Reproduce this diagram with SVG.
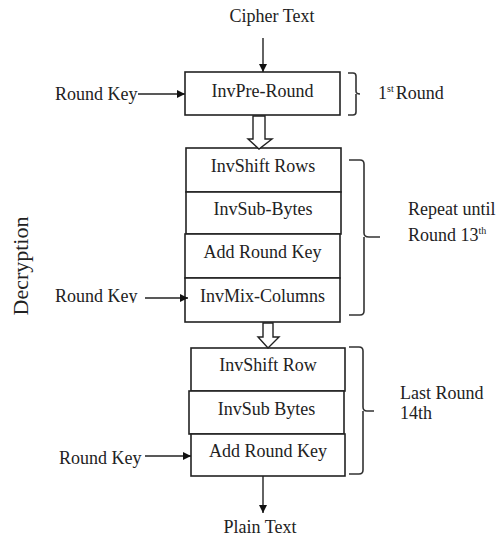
<svg xmlns="http://www.w3.org/2000/svg" width="497" height="537" viewBox="0 0 497 537">
  <style>
    text { font-family: "Liberation Serif", "Times New Roman", serif; font-size: 18px; fill: #222; }
    .c { text-anchor: middle; }
    .box { fill: #fff; stroke: #222; stroke-width: 1.6; }
    .line { fill: none; stroke: #222; stroke-width: 1.4; }
    .brace { fill: none; stroke: #333; stroke-width: 1.6; stroke-linejoin: round; }
    .hollow { fill: #fff; stroke: #222; stroke-width: 1.4; stroke-linejoin: miter; }
    .sup { font-size: 10px; }
  </style>
  <defs>
    <marker id="head" viewBox="0 0 10 10" refX="10" refY="5" markerWidth="8" markerHeight="8" markerUnits="userSpaceOnUse" orient="auto">
      <path d="M0,0 L10,5 L0,10 Z" fill="#111"/>
    </marker>
    <!-- the side labels sit in boxes that cut off the descenders -->
    <clipPath id="cutKey2"><rect x="40" y="280" width="110" height="23"/></clipPath>
  </defs>

  <rect width="497" height="537" fill="#fff"/>

  <!-- side labels -->
  <text transform="translate(28,266) rotate(-90)" class="c" style="font-size:22px">Decryption</text>
  <text x="55" y="100">Round Key</text>
  <text x="55" y="302" clip-path="url(#cutKey2)">Round Key</text>
  <text x="59" y="464">Round Key</text>
  <text x="272" y="22" class="c">Cipher Text</text>
  <text x="260" y="533" class="c">Plain Text</text>

  <!-- round annotations -->
  <text x="378" y="99">1<tspan class="sup" dy="-7">st</tspan><tspan dx="2" dy="7">Round</tspan></text>
  <text x="408" y="215">Repeat until</text>
  <text x="408" y="241">Round 13<tspan class="sup" dy="-7">th</tspan></text>
  <text x="400" y="399">Last Round</text>
  <text x="400" y="419">14th</text>

  <!-- first round -->
  <g id="inv-pre-round">
    <rect class="box" x="185" y="72" width="155" height="43"/>
    <text x="262.5" y="97" class="c">InvPre-Round</text>
  </g>

  <!-- rounds 2 .. 13 -->
  <g id="inv-shift-rows">
    <rect class="box" x="186" y="148" width="155" height="44"/>
    <text x="263" y="172" class="c">InvShift Rows</text>
  </g>
  <g id="inv-sub-bytes">
    <rect class="box" x="186" y="192" width="155" height="42"/>
    <text x="263" y="215" class="c">InvSub-Bytes</text>
  </g>
  <g id="add-round-key">
    <rect class="box" x="185" y="234" width="155" height="44"/>
    <text x="262.5" y="258" class="c">Add Round Key</text>
  </g>
  <g id="inv-mix-columns">
    <rect class="box" x="185" y="278" width="155" height="44"/>
    <text x="262.5" y="302" class="c">InvMix-Columns</text>
  </g>

  <!-- last round -->
  <g id="inv-shift-row">
    <rect class="box" x="191" y="348" width="154" height="43"/>
    <text x="268" y="371" class="c">InvShift Row</text>
  </g>
  <g id="inv-sub-bytes-last">
    <rect class="box" x="189" y="391" width="155" height="43"/>
    <text x="266.5" y="415" class="c">InvSub Bytes</text>
  </g>
  <g id="add-round-key-last">
    <rect class="box" x="191" y="434" width="154" height="42"/>
    <text x="268" y="457" class="c">Add Round Key</text>
  </g>

  <!-- braces -->
  <g id="braces">
    <path class="brace" d="M348,73 H353 Q356,73 356,76 V91 Q356,94 360,94 M356,94 Q356,97 356,100 V112 Q356,115 353,115 H348"/>
    <path class="brace" d="M349,160 H360 Q364,160 364,164 V233 Q364,237 369,237 H380 M364,237 Q364,241 364,245 V311 Q364,315 360,315 H349"/>
    <path class="brace" d="M349,347 H359 Q363,347 363,351 V407 Q363,411 367,411 H374 M363,411 Q363,415 363,419 V470 Q363,474 359,474 H349"/>
  </g>

  <!-- connectors -->
  <g id="connectors">
    <line class="line" x1="263" y1="38" x2="263" y2="72" marker-end="url(#head)"/>
    <line class="line" x1="138" y1="94" x2="185" y2="94" marker-end="url(#head)"/>
    <line class="line" x1="145" y1="298" x2="188" y2="298" marker-end="url(#head)"/>
    <line class="line" x1="145" y1="456" x2="191" y2="456" marker-end="url(#head)"/>
    <line class="line" x1="263" y1="476" x2="263" y2="513" marker-end="url(#head)"/>
    <path class="hollow" d="M253,116 H265 V139 H272 L259,149 L248,139 H253 Z"/>
    <path class="hollow" d="M263,323 H273 V337 H279 L268,348 L258,337 H263 Z"/>
  </g>
</svg>
